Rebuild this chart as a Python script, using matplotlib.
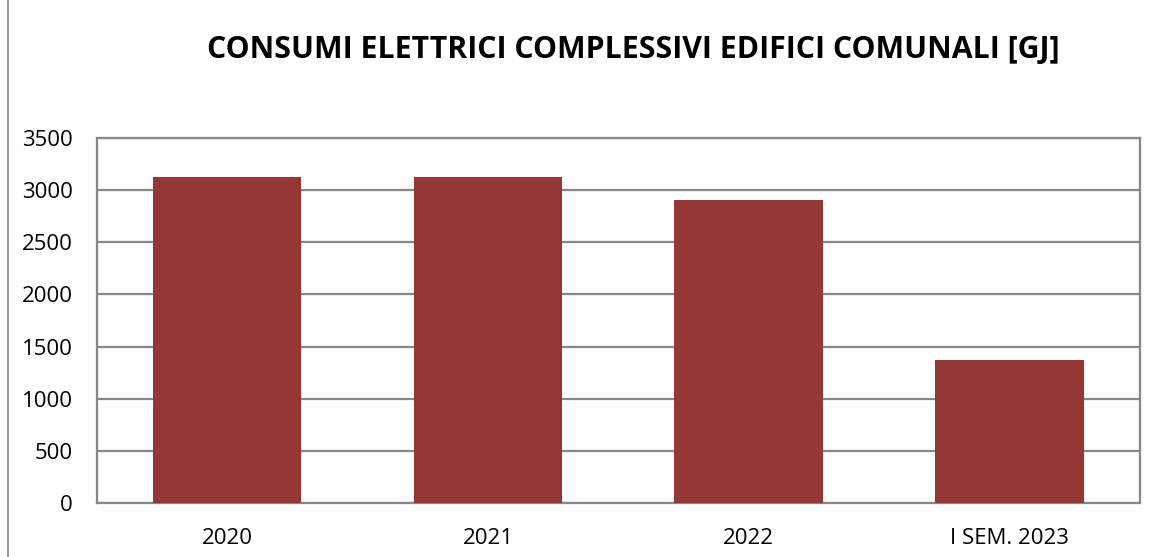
import matplotlib.pyplot as plt
from matplotlib.lines import Line2D
import numpy as np

# Data
categories = ['2020', '2021', '2022', 'I SEM. 2023']
consumi_gj = [3131, 3131, 2904, 1371]
y_ticks = [0, 500, 1000, 1500, 2000, 2500, 3000, 3500]

plt.rcParams['font.family'] = ['Open Sans', 'DejaVu Sans']

fig = plt.figure(figsize=(11.59, 5.57), dpi=100)
ax = fig.add_axes([96.7 / 1159, 1 - 502.8 / 557, (1140 - 96.7) / 1159, (502.8 - 138.2) / 557])

x = np.arange(len(categories))
ax.bar(x, consumi_gj, width=0.57, color='#953735', zorder=3)

ax.set_xlim(-0.5, len(categories) - 0.5)
ax.set_ylim(0, 3500)
ax.set_yticks(y_ticks)
ax.set_xticks(x)
ax.set_xticklabels(categories)
ax.tick_params(axis='both', length=0, labelsize=16, colors='black')
ax.tick_params(axis='y', pad=17)
ax.tick_params(axis='x', pad=18)

ax.grid(axis='y', color='#878787', linewidth=1.6, zorder=0)
for s in ax.spines.values():
    s.set_color('#878787')
    s.set_linewidth(1.6)

fig.text(0.5465, 0.91, 'CONSUMI ELETTRICI COMPLESSIVI EDIFICI COMUNALI [GJ]',
         ha='center', va='center', fontsize=21.8, fontweight='bold')

# outer chart border (only the left edge is visible in the reference)
fig.add_artist(Line2D([7.5 / 1159, 7.5 / 1159], [0, 1], color='#878787', linewidth=1.2,
                      transform=fig.transFigure))

fig.savefig('out.png', dpi=100)
